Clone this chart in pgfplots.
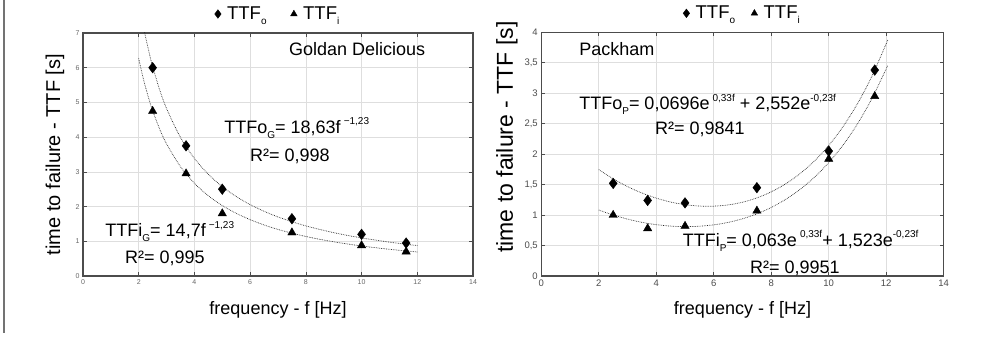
\documentclass[border=0pt]{standalone}
\usepackage{fontspec}
\setmainfont{Liberation Sans}
\usepackage{pgfplots}
\pgfplotsset{compat=1.18}
\newcommand\sub[2][10]{\raisebox{-0.5ex}{\fontsize{#1}{#1}\selectfont #2}}
\newcommand\sups[2][10]{\raisebox{0.9ex}{\fontsize{#1}{#1}\selectfont #2}}
\pgfplotsset{
  mystyle/.style={
    scale only axis, anchor=south west,
    xmin=0, xmax=14, xtick={0,2,...,14},
    grid=major, grid style={black!13, line width=0.7pt},
    axis line style={black!70, line width=1.1pt},
    tick style={black!70, line width=0.6pt}, major tick length=4pt,
    tick align=inside,
    /pgf/number format/assume math mode=true,
    /pgf/number format/use comma,
    label style={font=\fontsize{18}{20}\selectfont},
    xlabel style={at={(axis description cs:0.5,-0.14)}, anchor=center},
    legend style={at={(axis description cs:0.5,1)}, anchor=center, yshift=19pt,
      draw=none, fill=none, font=\fontsize{18.5}{20}\selectfont,
      /tikz/every even column/.append style={column sep=22pt}},
    legend columns=2,
    trend/.style={densely dotted, black!85, line width=0.7pt, smooth, forget plot},
    mo/.style={only marks, mark=diamond*, mark size=5.3pt, mark options={black},
      legend image post style={mark size=4.3pt}},
    mi/.style={only marks, mark=triangle*, mark size=4.8pt, mark options={black},
      legend image post style={mark size=3.8pt}},
  }
}
\begin{document}
\begin{tikzpicture}
\useasboundingbox (0,0) rectangle (992pt,337pt);
\draw[black!55, line width=1.5pt] (4pt,337pt) -- (4pt,4pt);
% ---------------- left panel
\begin{axis}[mystyle,
  at={(83pt,61pt)}, width=390pt, height=243pt,
  ymin=0, ymax=7, ytick={0,1,...,7},
  tick label style={font=\fontsize{7}{8}\selectfont, text=black!60},
  xlabel={frequency - f [Hz]},
  ylabel={time to failure - TTF [s]},
  ylabel style={at={(axis description cs:-0.0718,0.5)}, anchor=center, font=\fontsize{20}{22}\selectfont},
]
\addplot[mo] coordinates {(2.5,6.0)(3.7,3.75)(5,2.5)(7.5,1.65)(10,1.2)(11.6,0.95)};
\addlegendentry{\hspace{4pt}TTF\sub{o}}
\addplot[mi] coordinates {(2.5,4.75)(3.7,2.95)(5,1.8)(7.5,1.25)(10,0.88)(11.6,0.7)};
\addlegendentry{\hspace{4pt}TTF\sub{i}}
\addplot[trend] coordinates {(2,7.942)(2.1,7.480)(2.2,7.064)(2.25,6.871)(2.4,6.347)(2.5,6.036)(2.75,5.368)(3,4.823)(3.5,3.990)(4,3.386)(4.5,2.929)(5,2.573)(5.5,2.289)(6,2.056)(6.5,1.864)(7,1.701)(7.5,1.563)(8,1.443)(8.5,1.340)(9,1.249)(9.5,1.168)(10,1.097)(10.5,1.033)(11,0.976)(11.5,0.924)(12,0.877)};
\addplot[trend] coordinates {(2,6.267)(2.1,5.902)(2.2,5.574)(2.25,5.422)(2.4,5.008)(2.5,4.763)(2.75,4.236)(3,3.806)(3.5,3.149)(4,2.672)(4.5,2.311)(5,2.030)(5.5,1.806)(6,1.623)(6.5,1.470)(7,1.342)(7.5,1.233)(8,1.139)(8.5,1.057)(9,0.985)(9.5,0.922)(10,0.866)(10.5,0.815)(11,0.770)(11.5,0.729)(12,0.692)};
\node[font=\fontsize{18}{20}\selectfont] at (axis cs:9.84,6.53) {Goldan Delicious};
\node[anchor=west, font=\fontsize{18}{20}\selectfont] at (axis cs:4.95,4.26) {TTFo\sub{G}= 18,63f\,\sups{−1,23}};
\node[font=\fontsize{18}{20}\selectfont] at (axis cs:7.43,3.45) {R²= 0,998};
\node[anchor=west, font=\fontsize{18}{20}\selectfont] at (axis cs:0.68,1.29) {TTFi\sub{G}= 14,7f\,\sups{−1,23}};
\node[font=\fontsize{18}{20}\selectfont] at (axis cs:2.94,0.52) {R²= 0,995};
\end{axis}
% ---------------- right panel
\begin{axis}[mystyle,
  at={(541.3pt,61pt)}, width=402.4pt, height=243.7pt,
  ymin=0, ymax=4, ytick={0,0.5,...,4},
  tick label style={font=\fontsize{9.5}{11}\selectfont, text=black!70},
  xlabel={frequency - f [Hz]},
  ylabel={time to failure - TTF [s]},
  ylabel style={at={(axis description cs:-0.0852,0.57)}, anchor=center, font=\fontsize{23}{26}\selectfont},
  legend style={/tikz/every even column/.append style={column sep=14pt}},
]
\addplot[mo] coordinates {(2.5,1.52)(3.7,1.24)(5,1.2)(7.5,1.45)(10,2.05)(11.6,3.38)};
\addlegendentry{\hspace{4pt}TTF\sub{o}}
\addplot[mi] coordinates {(2.5,1.0)(3.7,0.78)(5,0.82)(7.5,1.07)(10,1.92)(11.6,2.95)};
\addlegendentry{\hspace{4pt}TTF\sub{i}}
\addplot[trend] coordinates {(2,1.746)(2.5,1.595)(3,1.467)(3.5,1.362)(4,1.278)(4.5,1.214)(5,1.171)(5.5,1.148)(6,1.146)(6.5,1.167)(7,1.211)(7.5,1.282)(8,1.381)(8.5,1.512)(9,1.679)(9.5,1.887)(10,2.143)(10.5,2.454)(11,2.828)(11.5,3.277)(12,3.813)(12.05,3.872)};
\addplot[trend] coordinates {(2,1.083)(2.5,1.001)(3,0.934)(3.5,0.881)(4,0.843)(4.5,0.819)(5,0.810)(5.5,0.817)(6,0.840)(6.5,0.880)(7,0.939)(7.5,1.020)(8,1.125)(8.5,1.257)(9,1.420)(9.5,1.620)(10,1.861)(10.5,2.151)(11,2.497)(11.5,2.911)(12,3.401)(12.05,3.455)};
\node[anchor=west, font=\fontsize{18}{20}\selectfont] at (axis cs:1.2,3.73) {Packham};
\node[anchor=west, font=\fontsize{18}{20}\selectfont] at (axis cs:1.2,2.82) {TTFo\sub{P}= 0,0696e\,\sups{0,33f} + 2,552e\sups{-0,23f}};
\node[font=\fontsize{18}{20}\selectfont] at (axis cs:5.52,2.40) {R²= 0,9841};
\node[anchor=west, font=\fontsize{18}{20}\selectfont] at (axis cs:4.8,0.575) {TTFi\sub{P}= 0,063e\,\sups{0,33f}+ 1,523e\sups{-0,23f}};
\node[font=\fontsize{18}{20}\selectfont] at (axis cs:8.82,0.13) {R²= 0,9951};
\end{axis}
\end{tikzpicture}
\end{document}
